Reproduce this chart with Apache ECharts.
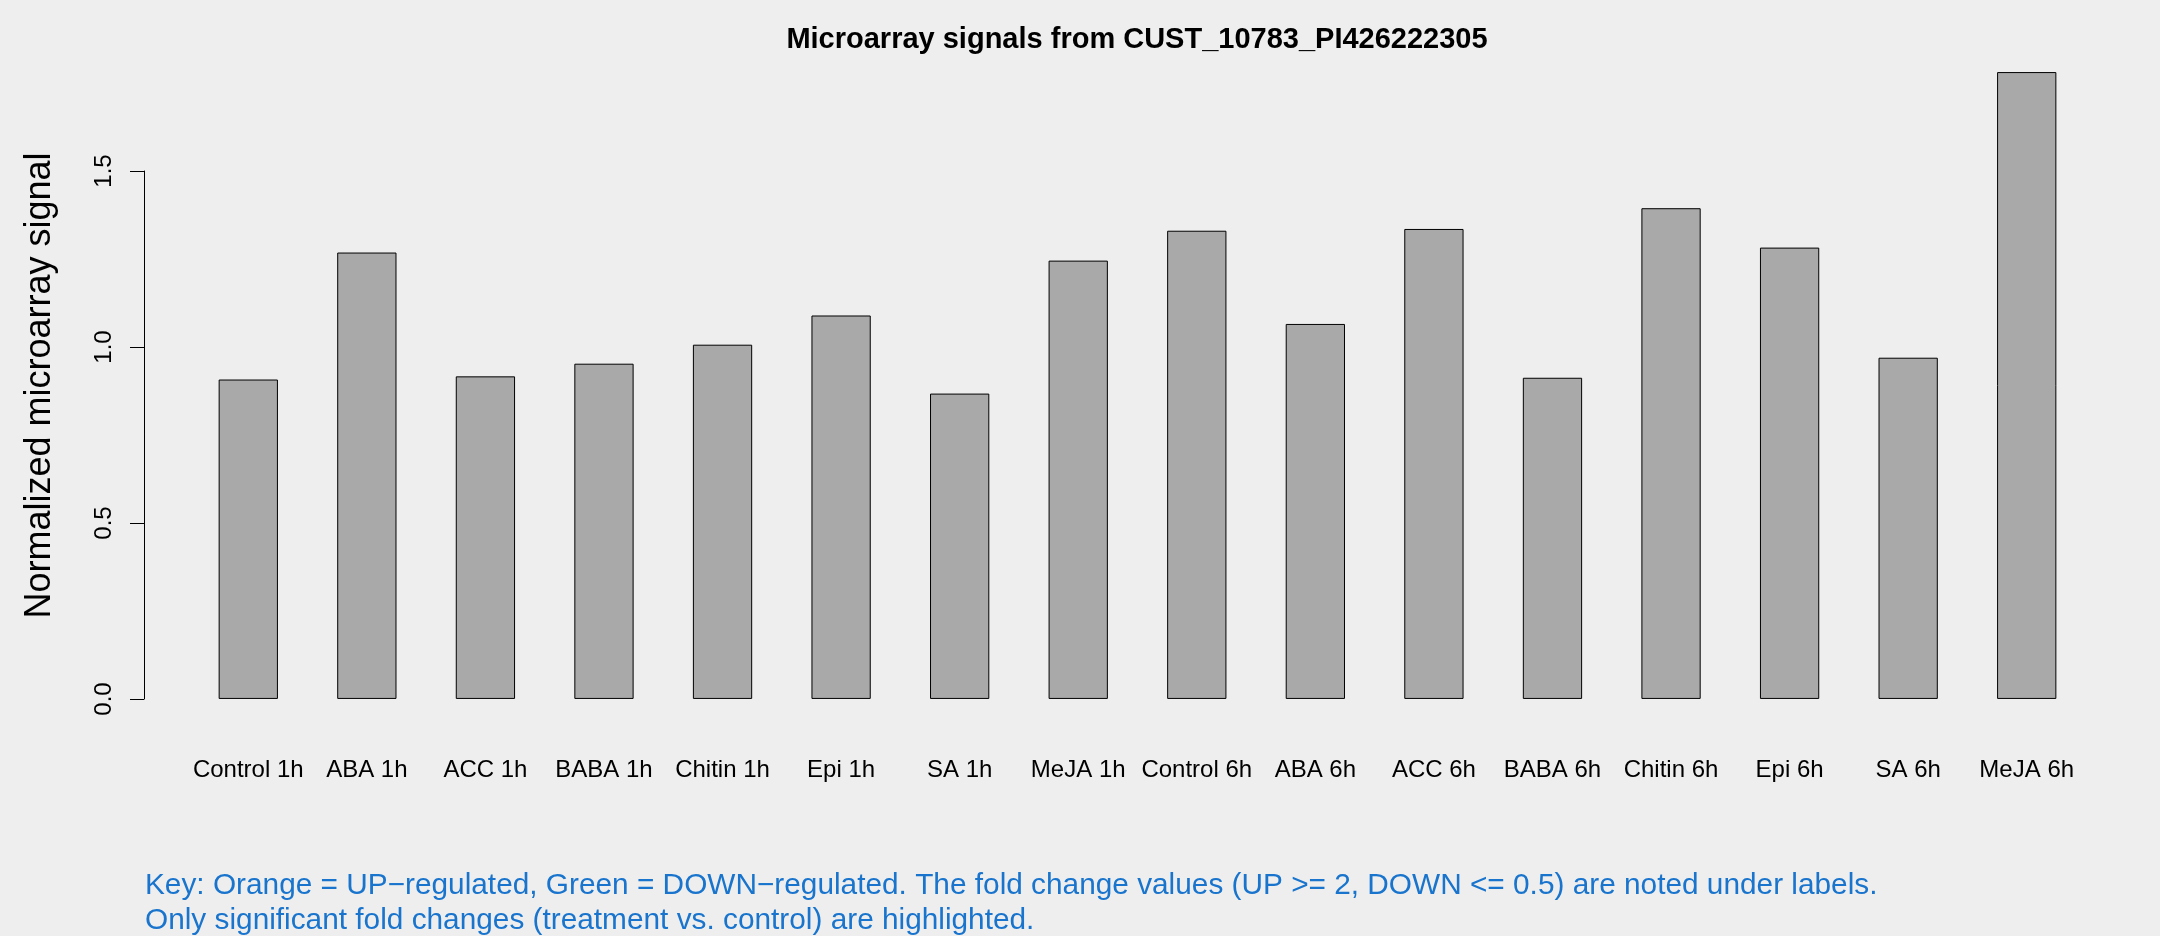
<!DOCTYPE html>
<html>
<head>
<meta charset="utf-8">
<script src="https://cdn.jsdelivr.net/npm/echarts@6/dist/echarts.min.js"></script>
<style>
  html, body { margin: 0; padding: 0; background: #EEEEEE; }
  #chart { width: 2160px; height: 936px; }
</style>
</head>
<body>
<div id="chart"></div>
<script>
const titleText = 'Microarray signals from CUST_10783_PI426222305';
const yAxisTitle = 'Normalized microarray signal';
const categories = ['Control 1h', 'ABA 1h', 'ACC 1h', 'BABA 1h', 'Chitin 1h', 'Epi 1h', 'SA 1h', 'MeJA 1h',
  'Control 6h', 'ABA 6h', 'ACC 6h', 'BABA 6h', 'Chitin 6h', 'Epi 6h', 'SA 6h', 'MeJA 6h'];
const signals = [0.908, 1.269, 0.917, 0.953, 1.007, 1.090, 0.868, 1.246,
  1.331, 1.066, 1.336, 0.913, 1.395, 1.283, 0.970, 1.782];
const yTickMin = 0;
const yTickMax = 1.5;
const yTickStep = 0.5;
const keyLines = [
  'Key: Orange = UP\u2212regulated, Green = DOWN\u2212regulated. The fold change values (UP >= 2, DOWN <= 0.5) are noted under labels.',
  'Only significant fold changes (treatment vs. control) are highlighted.'
];

const FONT = '"Liberation Sans", Arial, Helvetica, sans-serif';
const chart = echarts.init(document.getElementById('chart'), null, { renderer: 'canvas' });

// R-style plot region: y range extended 4% beyond [0, max]
const yMax = Math.max(...signals);
const yLo = -0.04 * yMax;
const yHi = yMax * 1.04;

chart.setOption({
  backgroundColor: '#EEEEEE',
  animation: false,
  title: [
    {
      text: titleText,
      left: 1137, top: 25, textAlign: 'center', padding: 0,
      textStyle: { fontFamily: FONT, fontWeight: 'bold', fontSize: 29, color: '#000' }
    },
    {
      text: keyLines[0],
      left: 145, top: 871, padding: 0,
      textStyle: { fontFamily: FONT, fontWeight: 'normal', fontSize: 29.8, color: '#1874CD' }
    },
    {
      text: keyLines[1],
      left: 145, top: 906, padding: 0,
      textStyle: { fontFamily: FONT, fontWeight: 'normal', fontSize: 29.8, color: '#1874CD' }
    }
  ],
  grid: [
    // axis-only grid spanning the tick range 0..1.5
    { left: 144, right: 74, top: 171, bottom: 237 },
    // data grid spanning full plot region
    { left: 189, right: 74, top: 47, bottom: 212 }
  ],
  xAxis: [
    { type: 'value', gridIndex: 0, show: false },
    {
      type: 'category', gridIndex: 1, data: categories,
      axisLine: { show: false }, axisTick: { show: false },
      axisLabel: { fontFamily: FONT, fontSize: 24, color: '#000', margin: 34, interval: 0 }
    }
  ],
  yAxis: [
    {
      type: 'value', gridIndex: 0, min: yTickMin, max: yTickMax, interval: yTickStep,
      axisLine: { show: true, lineStyle: { color: '#000', width: 1 } },
      axisTick: { show: true, length: 14, lineStyle: { color: '#000', width: 1 } },
      splitLine: { show: false },
      axisLabel: {
        rotate: 90, margin: 28, fontFamily: FONT, fontSize: 24, color: '#000',
        formatter: v => Number(v).toFixed(1)
      }
    },
    {
      type: 'value', gridIndex: 1, min: yLo, max: yHi, offset: 45,
      name: yAxisTitle, nameLocation: 'middle', nameGap: 86,
      nameTextStyle: { fontFamily: FONT, fontSize: 36, color: '#000' },
      axisLine: { show: false }, axisTick: { show: false },
      axisLabel: { show: false }, splitLine: { show: false }
    }
  ],
  series: [
    {
      type: 'bar', xAxisIndex: 1, yAxisIndex: 1,
      data: signals, barWidth: '50%',
      itemStyle: { color: '#A9A9A9', borderColor: '#000', borderWidth: 1 }
    }
  ]
});
</script>
</body>
</html>
